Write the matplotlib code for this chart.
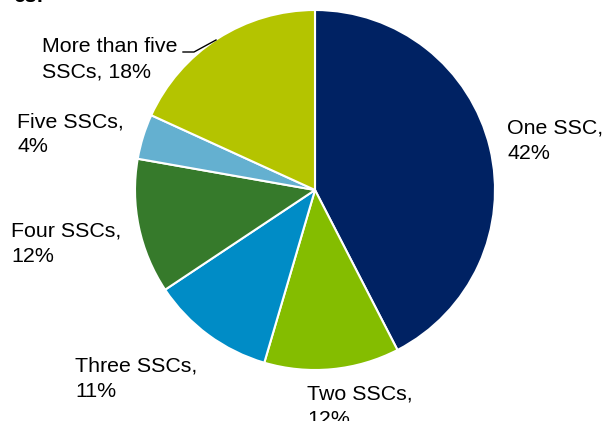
import matplotlib
matplotlib.use("Agg")
import matplotlib.pyplot as plt

categories = ["One SSC", "Two SSCs", "Three SSCs", "Four SSCs", "Five SSCs", "More than five SSCs"]
values = [42, 12, 11, 12, 4, 18]
colors = ["#002263", "#84BD00", "#008CC6", "#367A2B", "#64B0D0", "#B4C400"]
label_lines = [("One SSC,", "42%"), ("Two SSCs,", "12%"), ("Three SSCs,", "11%"),
               ("Four SSCs,", "12%"), ("Five SSCs,", "4%"), ("More than five", "SSCs, 18%")]
# label anchor positions in pixels (left edge, baseline of first line)
label_px = [(507, 134), (307, 400), (75, 372), (11, 237), (17, 127), (42, 52)]

plt.rcParams['font.family'] = ['Liberation Sans', 'DejaVu Sans']

W, H = 608, 421
cx, cy, R = 315, 190, 180
PITCH = 25
fig = plt.figure(figsize=(W / 100, H / 100), dpi=100)
ax = fig.add_axes([0, 0, 1, 1])

ax.pie(values, colors=colors, startangle=90, counterclock=False, radius=1.0,
       wedgeprops=dict(edgecolor='white', linewidth=1.5))
ax.set_xlim(-cx / R, (W - cx) / R)
ax.set_ylim((cy - H) / R, cy / R)
ax.set_aspect('equal')
ax.axis('off')

def p2d(px, py):
    return (px - cx) / R, (cy - py) / R

for lines, (px, py) in zip(label_lines, label_px):
    for i, line in enumerate(lines):
        x, y = p2d(px, py + i * PITCH)
        ax.text(x, y, line, fontsize=15.4, ha='left', va='baseline', color='black')

# leader line for "More than five SSCs"
pts = [p2d(183, 52), p2d(194, 52), p2d(216, 40)]
ax.plot([p[0] for p in pts], [p[1] for p in pts], color='black', linewidth=1.0)

# clipped title at top
fig.text(13 / W, 1.0 - 2.5 / H, "es:", fontsize=15, fontweight='bold', ha='left', va='baseline')

fig.savefig("out.png", dpi=100)
